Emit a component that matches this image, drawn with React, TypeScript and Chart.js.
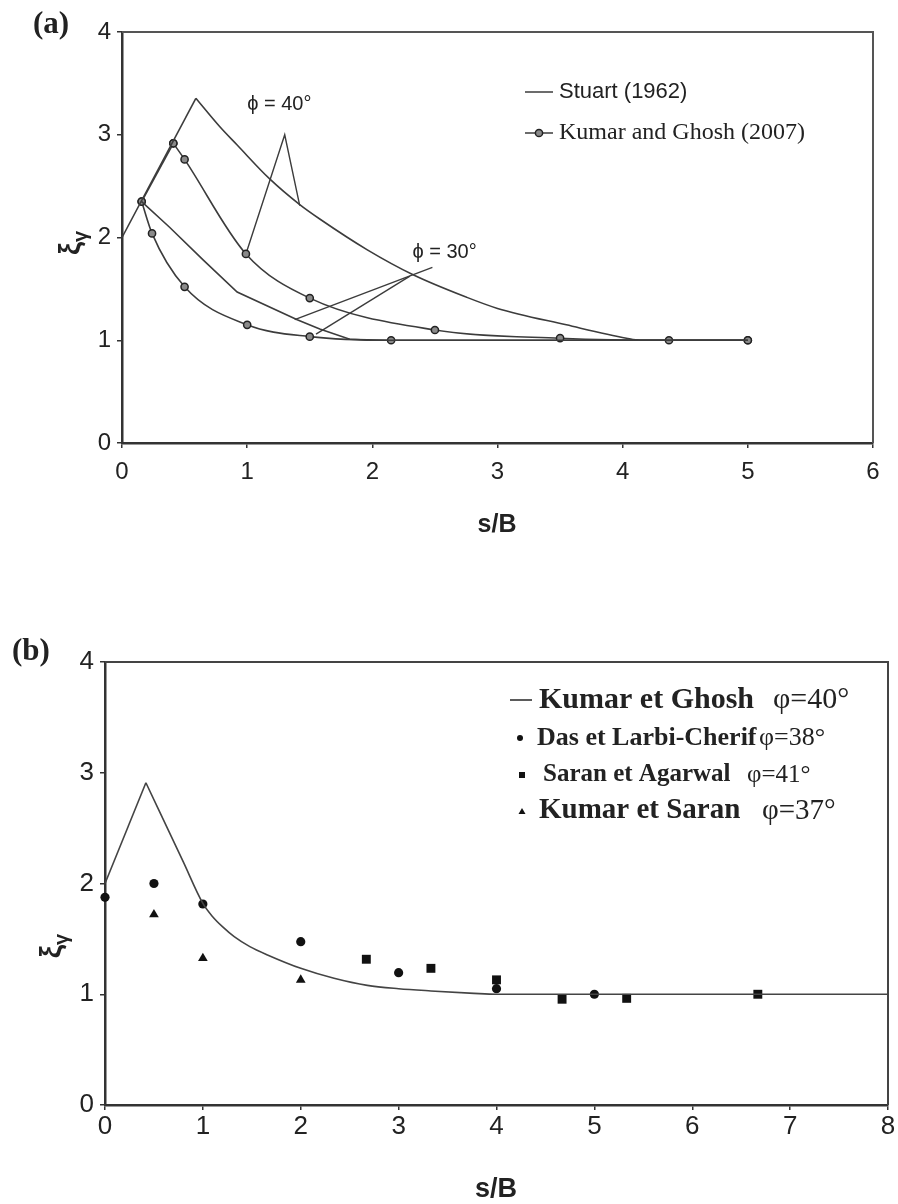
import React, { useEffect, useRef } from "react";
import { Chart, registerables } from "chart.js";

Chart.register(...registerables);

// ---------- (a) Stuart (1962) vs Kumar and Ghosh (2007) ----------
const stuartRiseX = [0, 0.59];
const stuartRiseY = [2.0, 3.355];
const stuart40X = [0.59, 0.78, 0.92, 1.18, 1.42, 1.58, 1.96, 2.33, 2.75, 3.0, 3.55, 4.03, 4.14, 5.0];
const stuart40Y = [3.355, 3.08, 2.9, 2.57, 2.32, 2.18, 1.88, 1.635, 1.42, 1.31, 1.15, 1.02, 1.0, 1.0];
const stuart30X = [0.157, 0.38, 0.65, 0.92, 1.4, 1.58, 1.82, 2.0, 5.0];
const stuart30Y = [2.35, 2.1, 1.78, 1.47, 1.2, 1.11, 1.01, 1.0, 1.0];

const kg40RiseX = [0.157, 0.41];
const kg40RiseY = [2.35, 2.917];
const kg40X = [0.41, 0.5, 0.99, 1.5, 2.5, 3.5, 4.37, 5.0];
const kg40Y = [2.917, 2.76, 1.84, 1.41, 1.1, 1.02, 1.0, 1.0];
const kg30X = [0.157, 0.24, 0.5, 1.0, 1.5, 2.15, 5.0];
const kg30Y = [2.35, 2.04, 1.52, 1.15, 1.035, 1.0, 1.0];

// leader lines for the friction-angle labels
const lead40X = [0.99, 1.3, 1.42];
const lead40Y = [1.84, 3.0, 2.31];
const lead30aX = [1.38, 2.48];
const lead30aY = [1.2, 1.71];
const lead30bX = [1.55, 2.3];
const lead30bY = [1.06, 1.625];

const topXTicks = [0, 1, 2, 3, 4, 5, 6];
const topYTicks = [0, 1, 2, 3, 4];

// ---------- (b) comparison with experiments ----------
const kgbRiseX = [0, 0.418];
const kgbRiseY = [2.0, 2.91];
const kgbX = [0.418, 0.8, 1.0, 1.1, 1.2, 1.32, 1.48, 1.66, 2.0, 2.34, 2.68, 3.0, 3.33, 3.77, 4.0, 8.0];
const kgbY = [2.91, 2.195, 1.82, 1.7, 1.61, 1.52, 1.43, 1.355, 1.234, 1.144, 1.08, 1.05, 1.03, 1.008, 1.0, 1.0];

const dasX = [0, 0.5, 1, 2, 3, 4, 5];
const dasY = [1.875, 2.0, 1.815, 1.475, 1.195, 1.05, 1.0];
const saranX = [2.67, 3.33, 4.0, 4.67, 5.33, 6.67];
const saranY = [1.316, 1.234, 1.13, 0.955, 0.963, 1.0];
const kumarSaranX = [0.5, 1, 2];
const kumarSaranY = [1.72, 1.325, 1.13];

const botXTicks = [0, 1, 2, 3, 4, 5, 6, 7, 8];
const botYTicks = [0, 1, 2, 3, 4];

const SANS = '"Liberation Sans", Arial, sans-serif';
const SERIF = '"Liberation Serif", "Times New Roman", serif';
const INK = "#222";
const LINE = "#3c3c3c";

type Pt = { x: number; y: number };
const zip = (xs: number[], ys: number[]): Pt[] => xs.map((x, i) => ({ x, y: ys[i] }));

function curve(xs: number[], ys: number[], extra: any = {}) {
  return {
    data: zip(xs, ys),
    showLine: true,
    borderColor: LINE,
    borderWidth: 1.6,
    pointRadius: 0,
    tension: 0,
    clip: false,
    ...extra,
  };
}

const topMarker = {
  pointRadius: 3.6,
  pointStyle: "circle",
  pointBackgroundColor: "#8a8a8a",
  pointBorderColor: "#222",
  pointBorderWidth: 1.5,
};

function drawXiGamma(ctx: CanvasRenderingContext2D, cx: number, cy: number, size: number) {
  ctx.save();
  ctx.translate(cx, cy);
  ctx.rotate(-Math.PI / 2);
  ctx.fillStyle = INK;
  ctx.textAlign = "left";
  ctx.textBaseline = "alphabetic";
  const sub = Math.round(size * 0.68);
  ctx.font = `bold ${size}px ${SANS}`;
  const w1 = ctx.measureText("ξ").width;
  ctx.font = `bold ${sub}px ${SANS}`;
  const w2 = ctx.measureText("γ").width;
  const x0 = -(w1 + w2) / 2;
  ctx.font = `bold ${size}px ${SANS}`;
  ctx.fillText("ξ", x0, size * 0.3);
  ctx.font = `bold ${sub}px ${SANS}`;
  ctx.fillText("γ", x0 + w1, size * 0.3 + sub * 0.35);
  ctx.restore();
}

function text(ctx: CanvasRenderingContext2D, s: string, x: number, y: number, font: string, align: CanvasTextAlign = "left") {
  ctx.font = font;
  ctx.fillStyle = INK;
  ctx.textAlign = align;
  ctx.textBaseline = "middle";
  ctx.fillText(s, x, y);
}

function frame(ctx: CanvasRenderingContext2D, a: any, color: string) {
  ctx.save();
  ctx.strokeStyle = color;
  ctx.lineWidth = 2;
  ctx.beginPath();
  ctx.moveTo(a.left, a.top);
  ctx.lineTo(a.right, a.top);
  ctx.lineTo(a.right, a.bottom);
  ctx.stroke();
  ctx.restore();
}

function axes(xmax: number, ymax: number, xTicks: number[], yTicks: number[], yWidth: number, xHeight: number, fontSize: number, xPad: number) {
  const tickFont = { family: SANS, size: fontSize };
  const common = {
    grid: { drawOnChartArea: false, drawTicks: true, tickLength: 5, color: "#333", lineWidth: 1.5 },
    border: { display: true, color: "#333", width: 2.5 },
  };
  return {
    x: {
      type: "linear",
      min: 0,
      max: xmax,
      afterBuildTicks: (s: any) => { s.ticks = xTicks.map((v) => ({ value: v })); },
      afterFit: (s: any) => { s.height = xHeight; },
      ticks: { font: tickFont, color: INK, padding: xPad, maxRotation: 0 },
      ...common,
    },
    y: {
      type: "linear",
      min: 0,
      max: ymax,
      afterBuildTicks: (s: any) => { s.ticks = yTicks.map((v) => ({ value: v })); },
      afterFit: (s: any) => { s.width = yWidth; },
      ticks: { font: tickFont, color: INK, padding: 6 },
      ...common,
    },
  };
}

function topConfig(): any {
  const deco = {
    id: "decoA",
    afterDraw(chart: any) {
      const ctx: CanvasRenderingContext2D = chart.ctx;
      const xs = chart.scales.x;
      const ys = chart.scales.y;
      frame(ctx, chart.chartArea, "#555");
      // legend
      ctx.save();
      ctx.strokeStyle = LINE;
      ctx.lineWidth = 1.6;
      ctx.beginPath();
      ctx.moveTo(525, 92);
      ctx.lineTo(553, 92);
      ctx.moveTo(525, 133);
      ctx.lineTo(553, 133);
      ctx.stroke();
      ctx.beginPath();
      ctx.arc(539, 133, 3.6, 0, Math.PI * 2);
      ctx.fillStyle = "#8a8a8a";
      ctx.fill();
      ctx.strokeStyle = "#222";
      ctx.lineWidth = 1.5;
      ctx.stroke();
      ctx.restore();
      text(ctx, "Stuart (1962)", 559, 92, `22px ${SANS}`);
      text(ctx, "Kumar and Ghosh (2007)", 559, 133, `24px ${SERIF}`);
      // friction angle labels
      text(ctx, "ϕ = 40°", xs.getPixelForValue(1.0), ys.getPixelForValue(3.29), `20px ${SANS}`);
      text(ctx, "ϕ = 30°", xs.getPixelForValue(2.32), ys.getPixelForValue(1.85), `20px ${SANS}`);
      // titles
      text(ctx, "s/B", 497, 525, `bold 25px ${SANS}`, "center");
      drawXiGamma(ctx, 71, 243, 29);
      text(ctx, "(a)", 33, 25, `bold 31px ${SERIF}`);
    },
  };
  return {
    type: "scatter",
    data: {
      datasets: [
        curve(stuartRiseX, stuartRiseY),
        curve(stuart40X, stuart40Y, { cubicInterpolationMode: "monotone" }),
        curve(stuart30X, stuart30Y),
        curve(kg40RiseX, kg40RiseY, topMarker),
        curve(kg40X, kg40Y, { cubicInterpolationMode: "monotone", ...topMarker }),
        curve(kg30X, kg30Y, { cubicInterpolationMode: "monotone", ...topMarker }),
        curve(lead40X, lead40Y, { borderWidth: 1.4 }),
        curve(lead30aX, lead30aY, { borderWidth: 1.4 }),
        curve(lead30bX, lead30bY, { borderWidth: 1.4 }),
      ],
    },
    options: {
      responsive: false,
      animation: false,
      events: [],
      devicePixelRatio: 1,
      layout: { padding: { left: 0, right: 25, top: 32, bottom: 0 } },
      plugins: { legend: { display: false }, tooltip: { enabled: false } },
      scales: axes(6, 4, topXTicks, topYTicks, 122, 157, 24, 10),
    },
    plugins: [deco],
  };
}

function bottomConfig(): any {
  const OFF = 600;
  const deco = {
    id: "decoB",
    afterDraw(chart: any) {
      const ctx: CanvasRenderingContext2D = chart.ctx;
      frame(ctx, chart.chartArea, "#444");
      // legend
      ctx.save();
      ctx.fillStyle = "#111";
      ctx.strokeStyle = "#333";
      ctx.lineWidth = 1.6;
      ctx.beginPath();
      ctx.moveTo(510, 700 - OFF);
      ctx.lineTo(532, 700 - OFF);
      ctx.stroke();
      ctx.beginPath();
      ctx.arc(520, 738 - OFF, 3, 0, Math.PI * 2);
      ctx.fill();
      ctx.fillRect(519, 772 - OFF, 6, 6);
      ctx.beginPath();
      ctx.moveTo(522, 808 - OFF);
      ctx.lineTo(525.5, 814 - OFF);
      ctx.lineTo(518.5, 814 - OFF);
      ctx.closePath();
      ctx.fill();
      ctx.restore();
      text(ctx, "Kumar et Ghosh", 539, 700 - OFF, `bold 30px ${SERIF}`);
      text(ctx, "φ=40°", 773, 700 - OFF, `30px ${SERIF}`);
      text(ctx, "Das et Larbi-Cherif", 537, 738 - OFF, `bold 26px ${SERIF}`);
      text(ctx, "φ=38°", 759, 738 - OFF, `26px ${SERIF}`);
      text(ctx, "Saran et Agarwal", 543, 775 - OFF, `bold 25px ${SERIF}`);
      text(ctx, "φ=41°", 747, 775 - OFF, `25px ${SERIF}`);
      text(ctx, "Kumar et Saran", 539, 811 - OFF, `bold 29px ${SERIF}`);
      text(ctx, "φ=37°", 762, 811 - OFF, `29px ${SERIF}`);
      // titles
      text(ctx, "s/B", 496, 1190 - OFF, `bold 27px ${SANS}`, "center");
      drawXiGamma(ctx, 52, 946 - OFF, 30);
      text(ctx, "(b)", 12, 652 - OFF, `bold 31px ${SERIF}`);
    },
  };
  const pts = (xs: number[], ys: number[], style: string, r: number) => ({
    data: zip(xs, ys),
    showLine: false,
    pointStyle: style,
    pointRadius: r,
    pointBackgroundColor: "#111",
    pointBorderColor: "#111",
    pointBorderWidth: 0,
    clip: false,
  });
  return {
    type: "scatter",
    data: {
      datasets: [
        curve(kgbRiseX, kgbRiseY, { borderColor: "#444" }),
        curve(kgbX, kgbY, { borderColor: "#444", cubicInterpolationMode: "monotone" }),
        pts(dasX, dasY, "circle", 4.6),
        pts(saranX, saranY, "rect", 6.3),
        pts(kumarSaranX, kumarSaranY, "triangle", 5.6),
      ],
    },
    options: {
      responsive: false,
      animation: false,
      events: [],
      devicePixelRatio: 1,
      layout: { padding: { left: 0, right: 10, top: 62, bottom: 0 } },
      plugins: { legend: { display: false }, tooltip: { enabled: false } },
      scales: axes(8, 4, botXTicks, botYTicks, 105, 99, 26, 1),
    },
    plugins: [deco],
  };
}

function ChartCanvas({ make, top, height }: { make: () => any; top: number; height: number }) {
  const ref = useRef<HTMLCanvasElement>(null);
  useEffect(() => {
    const chart = new Chart(ref.current as HTMLCanvasElement, make());
    return () => chart.destroy();
  }, [make]);
  return (
    <canvas
      ref={ref}
      width={898}
      height={height}
      style={{ position: "absolute", left: 0, top, width: 898, height }}
    />
  );
}

export default function App() {
  return (
    <div style={{ position: "absolute", left: 0, top: 0, width: 898, height: 1204, background: "#fff" }}>
      <ChartCanvas make={topConfig} top={0} height={600} />
      <ChartCanvas make={bottomConfig} top={600} height={604} />
    </div>
  );
}
